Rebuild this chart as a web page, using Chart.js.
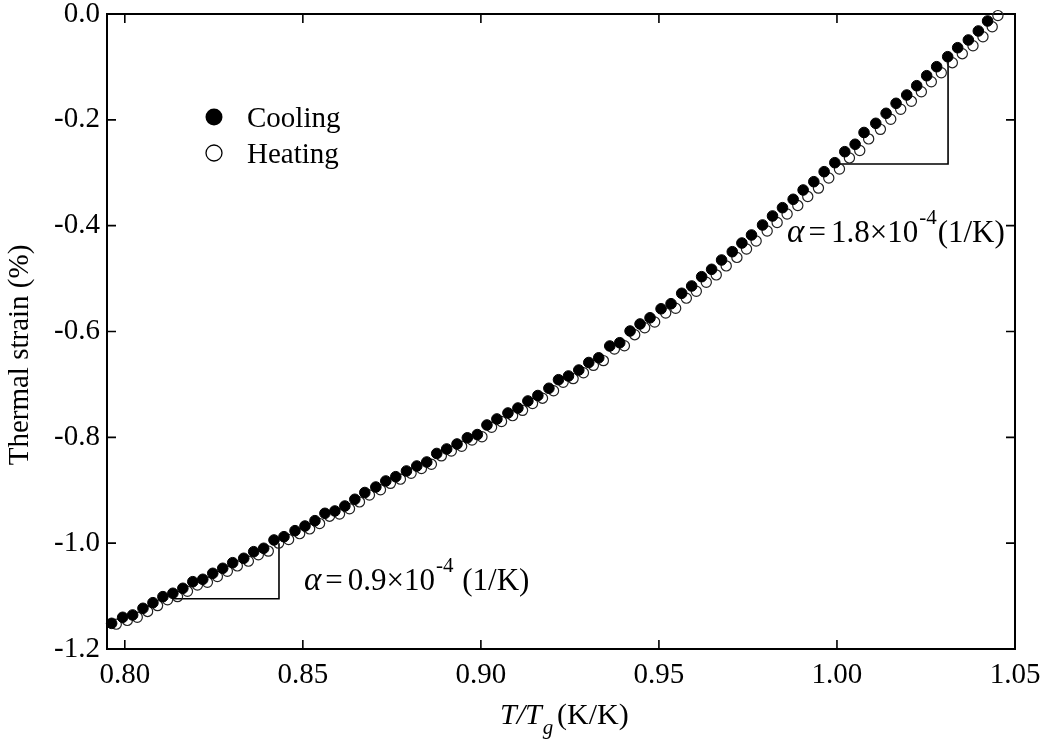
<!DOCTYPE html>
<html><head><meta charset="utf-8">
<script src="https://cdn.jsdelivr.net/npm/chart.js@4.4.1/dist/chart.umd.min.js"></script>
<style>html,body{margin:0;padding:0;background:#fff;} canvas{display:block;}</style>
</head><body><canvas id="c" width="1042" height="740"></canvas>
<script>
const xTicks = [0.80, 0.85, 0.90, 0.95, 1.00, 1.05];
const xTickLabels = ['0.80', '0.85', '0.90', '0.95', '1.00', '1.05'];
const yTicks = [0.0, -0.2, -0.4, -0.6, -0.8, -1.0, -1.2];
const yTickLabels = ['0.0', '-0.2', '-0.4', '-0.6', '-0.8', '-1.0', '-1.2'];
const seriesNames = ['Cooling', 'Heating'];

// [T/Tg, thermal strain %]
const cooling = [[0.7963,-1.1515],[0.7994,-1.1401],[0.8022,-1.1357],[0.8051,-1.1231],[0.8079,-1.1125],[0.8107,-1.1011],[0.8135,-1.0947],[0.8163,-1.0853],[0.8191,-1.0728],[0.8219,-1.0683],[0.8247,-1.0570],[0.8275,-1.0475],[0.8303,-1.0369],[0.8334,-1.0286],[0.8362,-1.0161],[0.8390,-1.0097],[0.8419,-0.9940],[0.8447,-0.9878],[0.8478,-0.9764],[0.8506,-0.9676],[0.8534,-0.9575],[0.8562,-0.9436],[0.8590,-0.9392],[0.8618,-0.9298],[0.8646,-0.9171],[0.8674,-0.9043],[0.8705,-0.8939],[0.8733,-0.8825],[0.8761,-0.8744],[0.8791,-0.8636],[0.8820,-0.8542],[0.8848,-0.8466],[0.8876,-0.8305],[0.8904,-0.8220],[0.8933,-0.8126],[0.8962,-0.8009],[0.8990,-0.7948],[0.9017,-0.7767],[0.9045,-0.7653],[0.9076,-0.7540],[0.9104,-0.7446],[0.9132,-0.7313],[0.9160,-0.7210],[0.9191,-0.7073],[0.9218,-0.6911],[0.9246,-0.6841],[0.9275,-0.6728],[0.9303,-0.6586],[0.9331,-0.6497],[0.9362,-0.6274],[0.9390,-0.6212],[0.9419,-0.5991],[0.9447,-0.5858],[0.9475,-0.5741],[0.9506,-0.5571],[0.9534,-0.5475],[0.9564,-0.5278],[0.9592,-0.5140],[0.9620,-0.4964],[0.9648,-0.4825],[0.9676,-0.4649],[0.9706,-0.4492],[0.9733,-0.4328],[0.9760,-0.4176],[0.9791,-0.3987],[0.9819,-0.3817],[0.9847,-0.3660],[0.9877,-0.3502],[0.9905,-0.3326],[0.9935,-0.3169],[0.9964,-0.2980],[0.9994,-0.2810],[1.0022,-0.2602],[1.0051,-0.2462],[1.0076,-0.2239],[1.0109,-0.2066],[1.0138,-0.1877],[1.0166,-0.1688],[1.0196,-0.1531],[1.0224,-0.1355],[1.0252,-0.1166],[1.0280,-0.0996],[1.0311,-0.0807],[1.0339,-0.0637],[1.0369,-0.0491],[1.0397,-0.0321],[1.0423,-0.0132]];

const heating = [[0.7976,-1.153],[0.8007,-1.146],[0.8035,-1.140],[0.8064,-1.129],[0.8092,-1.118],[0.8120,-1.107],[0.8148,-1.101],[0.8176,-1.091],[0.8204,-1.079],[0.8232,-1.074],[0.8260,-1.063],[0.8288,-1.053],[0.8316,-1.043],[0.8347,-1.034],[0.8375,-1.022],[0.8403,-1.015],[0.8432,-1.000],[0.8460,-0.993],[0.8491,-0.982],[0.8519,-0.973],[0.8547,-0.963],[0.8575,-0.949],[0.8603,-0.945],[0.8631,-0.935],[0.8659,-0.922],[0.8687,-0.909],[0.8718,-0.899],[0.8746,-0.887],[0.8774,-0.879],[0.8804,-0.868],[0.8833,-0.859],[0.8861,-0.851],[0.8889,-0.835],[0.8917,-0.826],[0.8946,-0.817],[0.8975,-0.805],[0.9003,-0.799],[0.9030,-0.781],[0.9058,-0.770],[0.9089,-0.759],[0.9117,-0.749],[0.9145,-0.736],[0.9173,-0.726],[0.9204,-0.712],[0.9231,-0.696],[0.9259,-0.689],[0.9288,-0.678],[0.9316,-0.664],[0.9344,-0.655],[0.9375,-0.633],[0.9403,-0.627],[0.9432,-0.606],[0.9460,-0.593],[0.9488,-0.582],[0.9519,-0.565],[0.9547,-0.556],[0.9577,-0.537],[0.9605,-0.524],[0.9633,-0.507],[0.9661,-0.493],[0.9689,-0.476],[0.9719,-0.460],[0.9746,-0.444],[0.9773,-0.429],[0.9804,-0.410],[0.9832,-0.394],[0.9860,-0.378],[0.9890,-0.362],[0.9918,-0.345],[0.9948,-0.329],[0.9977,-0.310],[1.0007,-0.293],[1.0035,-0.272],[1.0064,-0.258],[1.0089,-0.236],[1.0122,-0.218],[1.0151,-0.199],[1.0179,-0.180],[1.0209,-0.165],[1.0237,-0.147],[1.0265,-0.128],[1.0293,-0.111],[1.0324,-0.092],[1.0352,-0.075],[1.0382,-0.060],[1.0410,-0.043],[1.0436,-0.024],[1.0452,-0.003]];

// slope triangles
const slopeLow = [[0.8135,-1.105],[0.8433,-1.105],[0.8433,-1.000]];
const slopeHigh = [[1.0008,-0.2835],[1.0312,-0.2835],[1.0312,-0.081]];
const alphaLow = {x: 0.8503, y: -1.0885, coef: '0.9\u00d710', exp: '-4', unit: ' (1/K)'};
const alphaHigh = {x: 0.9860, y: -0.4309, coef: '1.8\u00d710', exp: '-4', unit: '(1/K)'};

const FONT = '"Liberation Serif", "Times New Roman", serif';
const toXY = a => a.map(p => ({x: p[0], y: p[1]}));

function drawAlpha(ctx, xs, ys, a) {
  let x = xs.getPixelForValue(a.x), y = ys.getPixelForValue(a.y);
  ctx.fillStyle = '#000';
  ctx.textBaseline = 'alphabetic'; ctx.textAlign = 'left';
  ctx.font = 'italic 33px ' + FONT;
  ctx.fillText('\u03b1', x, y); x += ctx.measureText('\u03b1').width + 4;
  ctx.font = '31px ' + FONT;
  ctx.fillText('=', x, y); x += ctx.measureText('=').width + 5;
  ctx.fillText(a.coef, x, y); x += ctx.measureText(a.coef).width + 1;
  ctx.font = '21px ' + FONT;
  ctx.fillText(a.exp, x, y - 18); x += ctx.measureText(a.exp).width + 1;
  ctx.font = '31px ' + FONT;
  ctx.fillText(a.unit, x, y);
}

const decor = {
  id: 'decor',
  beforeDatasetsDraw(chart) {
    const {ctx, chartArea: ca, scales: {x, y}} = chart;
    ctx.save();
    ctx.strokeStyle = '#000';
    ctx.lineWidth = 2;
    ctx.strokeRect(ca.left, ca.top, ca.right - ca.left, ca.bottom - ca.top);
    ctx.lineWidth = 1.6;
    ctx.beginPath();
    xTicks.forEach(v => {
      const px = x.getPixelForValue(v);
      ctx.moveTo(px, ca.bottom); ctx.lineTo(px, ca.bottom - 9);
      ctx.moveTo(px, ca.top); ctx.lineTo(px, ca.top + 9);
    });
    yTicks.forEach(v => {
      const py = y.getPixelForValue(v);
      ctx.moveTo(ca.left, py); ctx.lineTo(ca.left + 9, py);
      ctx.moveTo(ca.right, py); ctx.lineTo(ca.right - 9, py);
    });
    ctx.stroke();
    ctx.restore();
  },
  afterDraw(chart) {
    const {ctx, scales: {x, y}} = chart;
    ctx.save();
    // legend
    ctx.fillStyle = '#000'; ctx.strokeStyle = '#000';
    ctx.beginPath(); ctx.arc(214, 117, 8.5, 0, Math.PI * 2); ctx.fill();
    ctx.lineWidth = 1.3;
    ctx.beginPath(); ctx.arc(214, 153, 8, 0, Math.PI * 2); ctx.stroke();
    ctx.font = '29px ' + FONT; ctx.textAlign = 'left'; ctx.textBaseline = 'alphabetic';
    ctx.fillText(seriesNames[0], 247, 127);
    ctx.fillText(seriesNames[1], 247, 163);
    // annotations
    drawAlpha(ctx, x, y, alphaLow);
    drawAlpha(ctx, x, y, alphaHigh);
    // x title
    ctx.font = 'italic 30px ' + FONT;
    ctx.fillText('T/T', 500, 724);
    let w = ctx.measureText('T/T').width;
    ctx.font = 'italic 21px ' + FONT;
    ctx.fillText('g', 500 + w + 1, 734);
    ctx.font = '30px ' + FONT;
    ctx.fillText('(K/K)', 557, 724);
    // y title
    ctx.translate(28, 355);
    ctx.rotate(-Math.PI / 2);
    ctx.textAlign = 'center';
    ctx.font = '29px ' + FONT;
    ctx.fillText('Thermal strain (%)', 0, 0);
    ctx.restore();
  }
};

new Chart(document.getElementById('c'), {
  type: 'scatter',
  data: {
    datasets: [
      {label: seriesNames[0], data: toXY(cooling), pointRadius: 5.3, pointBackgroundColor: '#000', pointBorderColor: '#000', borderWidth: 1, clip: false, order: 0},
      {label: seriesNames[1], data: toXY(heating), pointRadius: 5.1, pointBackgroundColor: 'rgba(255,255,255,0)', pointBorderColor: '#222', pointBorderWidth: 1.2, clip: false, order: 1},
      {label: 'slopeLow', data: toXY(slopeLow), showLine: true, pointRadius: 0, borderColor: '#000', borderWidth: 1.6, fill: false, order: 2},
      {label: 'slopeHigh', data: toXY(slopeHigh), showLine: true, pointRadius: 0, borderColor: '#000', borderWidth: 1.6, fill: false, order: 2}
    ]
  },
  options: {
    responsive: false, animation: false, devicePixelRatio: 1,
    layout: {padding: {top: 14, right: 27, left: 0, bottom: 0}},
    plugins: {legend: {display: false}, tooltip: {enabled: false}},
    scales: {
      x: {
        type: 'linear', min: 0.795, max: 1.05,
        afterBuildTicks: s => { s.ticks = xTicks.map(v => ({value: v})); },
        afterFit: s => { s.height = 91; s.paddingLeft = 0; s.paddingRight = 0; },
        grid: {display: false, drawTicks: false},
        border: {display: false},
        ticks: {callback: (v, i) => xTickLabels[i], color: '#000', font: {family: FONT, size: 29}, padding: 9, maxRotation: 0, autoSkip: false}
      },
      y: {
        type: 'linear', min: -1.2, max: 0,
        afterBuildTicks: s => { s.ticks = yTicks.map(v => ({value: v})); },
        afterFit: s => { s.width = 107; s.paddingTop = 0; s.paddingBottom = 0; },
        grid: {display: false, drawTicks: false},
        border: {display: false},
        ticks: {callback: (v, i) => yTickLabels[i], color: '#000', font: {family: FONT, size: 29}, padding: 7, autoSkip: false}
      }
    }
  },
  plugins: [decor]
});
</script>
</body></html>
